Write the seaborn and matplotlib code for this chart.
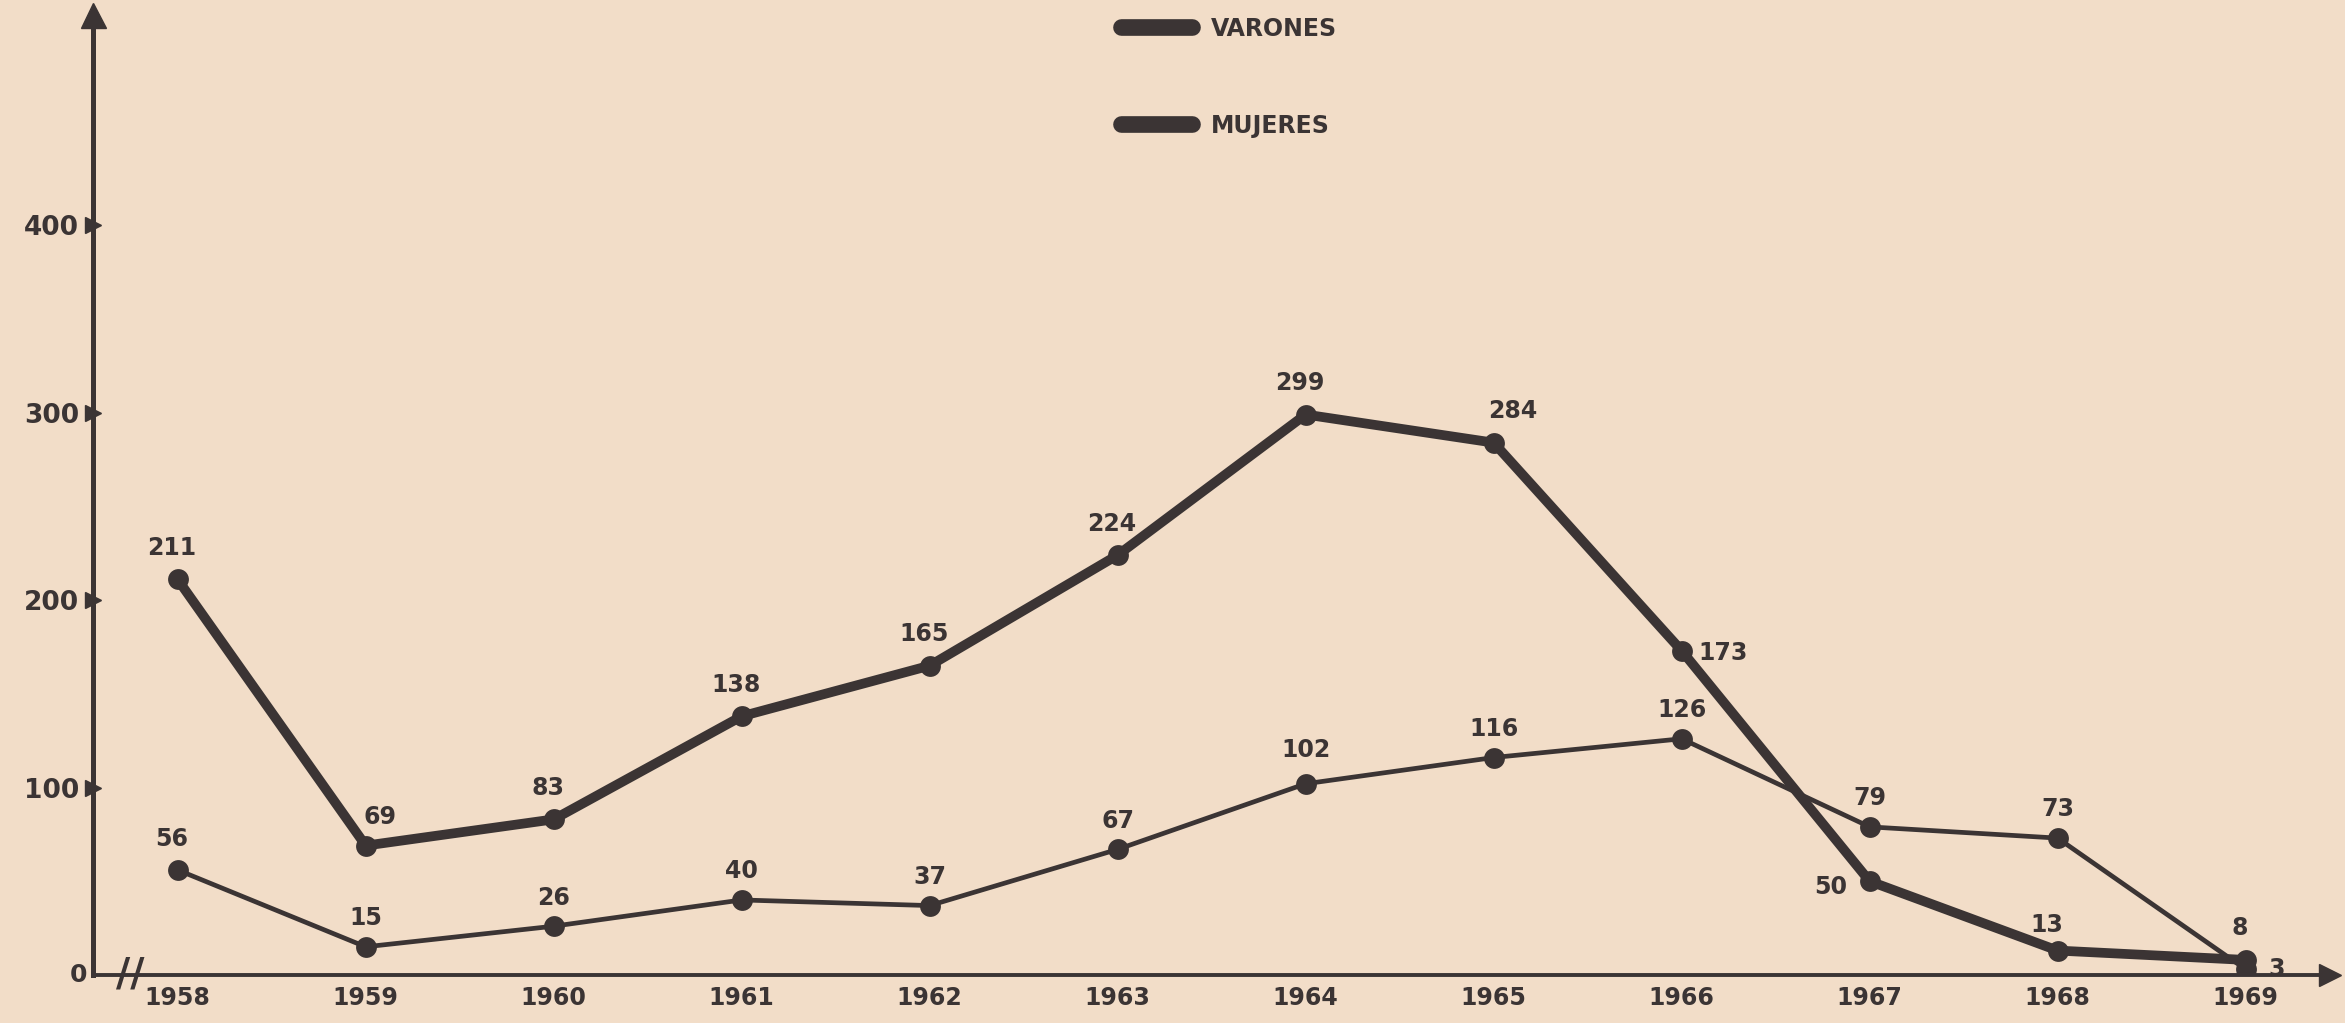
import pandas as pd
import seaborn as sns
import matplotlib.pyplot as plt

# data
years = [1958, 1959, 1960, 1961, 1962, 1963, 1964, 1965, 1966, 1967, 1968, 1969]
varones = [211, 69, 83, 138, 165, 224, 299, 284, 173, 50, 13, 8]
mujeres = [56, 15, 26, 40, 37, 67, 102, 116, 126, 79, 73, 3]
yticks = [100, 200, 300, 400]

df = pd.DataFrame({'year': years * 2,
                   'value': varones + mujeres,
                   'serie': ['VARONES'] * len(years) + ['MUJERES'] * len(years)})

ink = '#3b3434'
paper = '#f2ddc8'

sns.set_style('white')
plt.rcParams['font.family'] = ['DejaVu Sans']

fig = plt.figure(figsize=(23.45, 10.23), dpi=100)
fig.patch.set_facecolor(paper)
ax = fig.add_axes([0.0397, 0.047, 0.954, 0.938])
ax.set_facecolor(paper)

sns.lineplot(data=df, x='year', y='value', hue='serie', size='serie',
             sizes={'VARONES': 7.0, 'MUJERES': 3.4},
             palette={'VARONES': ink, 'MUJERES': ink},
             marker='o', markersize=15, markeredgewidth=0, legend=False, ax=ax)

# value labels
off_v = {1959: (10, 12), 1965: (14, 14), 1966: (30, -2), 1967: (-28, -4), 1968: (-8, 10), 1969: (-4, 14)}
off_m = {1958: (-4, 14), 1964: (0, 16), 1969: (22, 0)}
for x, v in zip(years, varones):
    dx, dy = off_v.get(x, (-4, 14))
    ax.annotate(str(v), (x, v), xytext=(dx, dy), textcoords='offset points',
                ha='center', va='bottom' if dy > 0 else 'center',
                fontsize=17, fontweight='bold', color=ink)
for x, v in zip(years, mujeres):
    dx, dy = off_m.get(x, (0, 12))
    ax.annotate(str(v), (x, v), xytext=(dx, dy), textcoords='offset points',
                ha='center', va='bottom' if dy > 0 else 'center',
                fontsize=17, fontweight='bold', color=ink)

ax.set_xlim(1957.55, 1969.45)
ax.set_ylim(0, 512)
ax.set_xticks(years)
ax.set_xticklabels([str(y) for y in years], fontsize=17, fontweight='bold', color=ink)
ax.set_yticks(yticks)
ax.set_yticklabels([str(t) for t in yticks], fontsize=19, fontweight='bold', color=ink)
ax.set_yticks([50, 150, 250], minor=True)
ax.tick_params(axis='y', which='major', direction='out', length=0, pad=10)
ax.tick_params(axis='y', which='minor', direction='inout', length=10, width=2, color=ink)
ax.tick_params(axis='x', direction='inout', length=12, width=2.5, color=ink, pad=2)
ax.set_xlabel('')
ax.set_ylabel('')

sns.despine(ax=ax)
ax.spines['left'].set_linewidth(3.6)
ax.spines['left'].set_color(ink)
ax.spines['bottom'].set_linewidth(2.8)
ax.spines['bottom'].set_color(ink)

# arrow heads and small pointers on the y axis
ax.plot([0], [1], marker='^', markersize=18, color=ink, transform=ax.transAxes, clip_on=False)
ax.plot([1], [0], marker='>', markersize=16, color=ink, transform=ax.transAxes, clip_on=False)
for t in yticks:
    ax.plot([1957.55], [t], marker='>', markersize=11, color=ink, clip_on=False)
ax.text(1957.52, 0, '0', ha='right', va='center', fontsize=18, fontweight='bold', color=ink)
ax.text(1957.75, 0, '//', ha='center', va='center', fontsize=28, fontweight='bold', color=ink)

# legend in the upper middle
handles = [plt.Line2D([], [], color=ink, linewidth=12, solid_capstyle='round') for _ in range(2)]
leg = fig.legend(handles, ['VARONES', 'MUJERES'], loc='upper center', bbox_to_anchor=(0.524, 1.0),
                 frameon=False, handlelength=3.0, labelspacing=3.1, borderpad=0.2,
                 prop={'size': 17, 'weight': 'bold'})
for t in leg.get_texts():
    t.set_color(ink)

fig.savefig('out.png', dpi=100, facecolor=paper)
